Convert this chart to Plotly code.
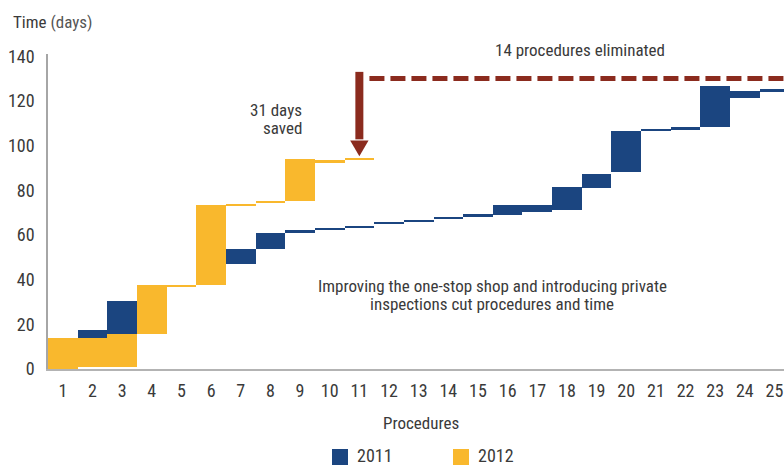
import plotly.graph_objects as go

# Procedure numbers for each year
procedures_2011 = list(range(1, 26))
procedures_2012 = list(range(1, 12))

# Start / end day of each procedure (cumulative time, days)
start_2011 = [0, 14, 14, 30.5, 37, 37.7, 46.8, 53.8, 61, 62.1, 63, 65.2, 65.8,
              67, 68.2, 68.8, 70.1, 71, 80.9, 88.1, 106.5, 107.1, 108.3, 121.1, 124.1]
end_2011 = [14, 17.5, 30.5, 37, 37.7, 46.8, 53.8, 61, 62, 63.1, 64, 65.9, 66.8,
            68, 69.2, 73.3, 73.3, 81.3, 87.2, 106.5, 107.5, 108.3, 126.6, 124.4, 125.2]

start_2012 = [0, 0.7, 1.0, 15.8, 37.0, 37.7, 73.0, 74.2, 75.1, 92.3, 93.5]
end_2012 = [14, 14, 15.8, 37.7, 37.7, 73.6, 74.0, 75.2, 94.2, 93.5, 94.5]

x_ticks = list(range(1, 26))
y_ticks = list(range(0, 141, 20))

NAVY = "#1b4580"
GOLD = "#f9b82d"
RED = "#8b2b1e"
TEXT = "#3a3a3a"
FONT = "Liberation Sans Narrow, Roboto Condensed, Liberation Sans, sans-serif"

W, H = 784, 467
ML, MR, MT, MB = 48, 0, 54, 98


def px_x(p):
    return (p - ML) / (W - ML - MR)


def px_y(p):
    return (H - MB - p) / (H - MT - MB)


fig = go.Figure()
fig.add_trace(go.Bar(
    x=procedures_2011,
    y=[e - s for s, e in zip(start_2011, end_2011)],
    base=start_2011, width=1, name="2011",
    marker=dict(color=NAVY, line=dict(width=0)),
))
fig.add_trace(go.Bar(
    x=procedures_2012,
    y=[e - s for s, e in zip(start_2012, end_2012)],
    base=start_2012, width=1, name="2012",
    marker=dict(color=GOLD, line=dict(width=0)),
))

# Arrow marking the time saved, and dashed line for eliminated procedures
arrow_x, arrow_top, arrow_neck, arrow_tip = 11, 133, 102.3, 95.2
head_half = 0.31
dash_y, dash_x0, dash_x1 = 130, 11.34, 25.6

shapes = [
    dict(type="line", xref="x", yref="y", x0=dash_x0, x1=dash_x1, y0=dash_y, y1=dash_y,
         line=dict(color=RED, width=5, dash="15px,6px")),
    dict(type="line", xref="x", yref="y", x0=arrow_x, x1=arrow_x, y0=arrow_top, y1=arrow_neck + 0.5,
         line=dict(color=RED, width=8)),
    dict(type="path", xref="x", yref="y",
         path=f"M{arrow_x - head_half},{arrow_neck} L{arrow_x + head_half},{arrow_neck} "
              f"L{arrow_x},{arrow_tip} Z",
         fillcolor=RED, line=dict(width=0)),
    # legend swatches
    dict(type="rect", xref="paper", yref="paper", x0=px_x(332), x1=px_x(348),
         y0=px_y(465), y1=px_y(449), fillcolor=NAVY, line=dict(width=0)),
    dict(type="rect", xref="paper", yref="paper", x0=px_x(453), x1=px_x(469),
         y0=px_y(465), y1=px_y(449), fillcolor=GOLD, line=dict(width=0)),
]


def label(text, x, y, anchor="center", size=17, color=TEXT):
    return dict(text=text, xref="paper", yref="paper", x=px_x(x), y=px_y(y),
                xanchor=anchor, yanchor="middle", showarrow=False,
                font=dict(family=FONT, size=size, color=color))


annotations = [
    label("Time <span style='color:#555'>(days)</span>", 11, 22, anchor="left", size=17),
    label("14 procedures eliminated", 580, 50),
    label("31 days", 304, 110, anchor="right"),
    label("saved", 304, 128, anchor="right"),
    label("Improving the one-stop shop and introducing private", 492, 286),
    label("inspections cut procedures and time", 492, 304),
    label("Procedures", 421, 423),
    label("2011", 355, 455.5, anchor="left", size=18),
    label("2012", 476, 455.5, anchor="left", size=18),
]

fig.update_layout(
    width=W, height=H,
    margin=dict(l=ML, r=MR, t=MT, b=MB, autoexpand=False),
    paper_bgcolor="white", plot_bgcolor="white",
    barmode="overlay", bargap=0,
    showlegend=False,
    shapes=shapes, annotations=annotations,
    font=dict(family=FONT, color=TEXT),
)
fig.update_xaxes(
    range=[0.5, 25.32], tickvals=x_ticks, ticktext=[str(v) for v in x_ticks],
    showgrid=False, zeroline=False, showline=True, linecolor="#b3b3b3", linewidth=2,
    ticks="", tickfont=dict(size=18, color=TEXT, family=FONT), ticklabelstandoff=4,
)
fig.update_yaxes(
    range=[0, 141], tickvals=y_ticks, ticktext=[str(v) for v in y_ticks],
    showgrid=False, zeroline=False, showline=True, linecolor="#a6a6a6", linewidth=1.5,
    ticks="", tickfont=dict(size=18, color=TEXT, family=FONT), ticklabelstandoff=8,
)

fig.write_html("out.html")
